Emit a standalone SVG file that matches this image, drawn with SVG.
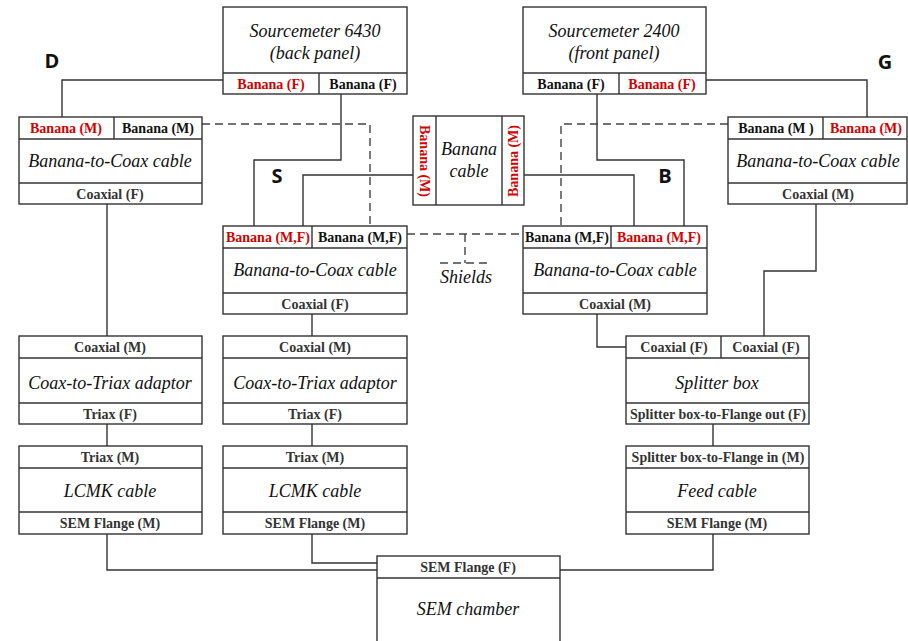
<svg xmlns="http://www.w3.org/2000/svg" width="908" height="641" viewBox="0 0 908 641">
<style>
.bx{fill:#fff;stroke:#333;stroke-width:1.4}
.dv{stroke:#333;stroke-width:1.4;fill:none}
.ln{fill:none;stroke:#333;stroke-width:1.4}
.ds{fill:none;stroke:#444;stroke-width:1.4;stroke-dasharray:8,5}
text{font-family:"Liberation Serif","Times New Roman",serif}
.pt{font-weight:bold;font-size:14px;fill:#333;text-anchor:middle}
.rd{fill:#d40000}
.bk{fill:#111}
.tt{font-style:italic;font-size:18px;fill:#111;text-anchor:middle}
text.lt{font-family:"Open Sans","DejaVu Sans",sans-serif;font-weight:bold;font-size:20px;fill:#111;text-anchor:middle}
</style>
<rect width="908" height="641" fill="#fff"/>
<g id="connectors">
<polyline class="ln" points="223,80 62,80 62,117"/>
<polyline class="ln" points="341,94 341,160 254,160 254,226"/>
<polyline class="ln" points="413,175 303,175 303,226"/>
<polyline class="ln" points="524,175 634,175 634,226"/>
<polyline class="ln" points="597,94 597,160 684,160 684,226"/>
<polyline class="ln" points="706,80 867,80 867,117"/>
<polyline class="ds" points="202,124 370,124 370,226"/>
<polyline class="ds" points="728,124 561,124 561,226"/>
<line class="ds" x1="407" y1="234" x2="523" y2="234"/>
<line class="ds" x1="465" y1="234" x2="465" y2="263"/>
<line class="ds" x1="440" y1="263" x2="491" y2="263"/>
<line class="ln" x1="107" y1="204" x2="107" y2="336"/>
<line class="ln" x1="312" y1="314" x2="312" y2="336"/>
<line class="ln" x1="107" y1="424" x2="107" y2="446"/>
<line class="ln" x1="312" y1="424" x2="312" y2="446"/>
<polyline class="ln" points="597,314 597,347 626,347"/>
<polyline class="ln" points="816,204 816,271 764,271 764,336"/>
<line class="ln" x1="713" y1="424" x2="713" y2="446"/>
<polyline class="ln" points="107,534 107,570 377,570"/>
<polyline class="ln" points="312,534 312,563 377,563"/>
<polyline class="ln" points="713,534 713,570 560,570"/>
</g>
<g id="labels">
<text class="lt" x="52" y="68">D</text>
<text class="lt" x="885" y="69">G</text>
<text class="lt" x="277" y="183">S</text>
<text class="lt" x="665" y="183">B</text>
<text class="tt" x="466" y="283">Shields</text>
</g>
<g id="sm6430">
<rect class="bx" x="223" y="7" width="184" height="87"/>
<line class="dv" x1="223" y1="73" x2="407" y2="73"/>
<line class="dv" x1="319" y1="73" x2="319" y2="94"/>
<text class="tt" x="315" y="37">Sourcemeter 6430</text>
<text class="tt" x="315" y="59">(back panel)</text>
<text class="pt rd" x="271" y="88.5">Banana (F)</text>
<text class="pt bk" x="363" y="88.5">Banana (F)</text>
</g>
<g id="sm2400">
<rect class="bx" x="523" y="7" width="183" height="87"/>
<line class="dv" x1="523" y1="73" x2="706" y2="73"/>
<line class="dv" x1="619" y1="73" x2="619" y2="94"/>
<text class="tt" x="614" y="37">Sourcemeter 2400</text>
<text class="tt" x="614" y="59">(front panel)</text>
<text class="pt bk" x="571" y="88.5">Banana (F)</text>
<text class="pt rd" x="662" y="88.5">Banana (F)</text>
</g>
<g id="b2c-d">
<rect class="bx" x="19" y="117" width="183" height="87"/>
<line class="dv" x1="19" y1="139" x2="202" y2="139"/>
<line class="dv" x1="19" y1="183" x2="202" y2="183"/>
<line class="dv" x1="114" y1="117" x2="114" y2="139"/>
<text class="pt rd" x="66" y="133">Banana (M)</text>
<text class="pt bk" x="158" y="133">Banana (M)</text>
<text class="tt" x="110" y="167">Banana-to-Coax cable</text>
<text class="pt" x="110" y="198.5">Coaxial (F)</text>
</g>
<g id="b2c-g">
<rect class="bx" x="728" y="117" width="179" height="87"/>
<line class="dv" x1="728" y1="139" x2="907" y2="139"/>
<line class="dv" x1="728" y1="183" x2="907" y2="183"/>
<line class="dv" x1="823" y1="117" x2="823" y2="139"/>
<text class="pt bk" x="776" y="133">Banana (M )</text>
<text class="pt rd" x="866" y="133">Banana (M)</text>
<text class="tt" x="818" y="167">Banana-to-Coax cable</text>
<text class="pt" x="818" y="198.5">Coaxial (M)</text>
</g>
<g id="banana-cable">
<rect class="bx" x="413" y="116" width="111" height="89"/>
<line class="dv" x1="436" y1="116" x2="436" y2="205"/>
<line class="dv" x1="502" y1="116" x2="502" y2="205"/>
<text class="pt rd" transform="translate(420,161) rotate(90)">Banana (M)</text>
<text class="pt rd" transform="translate(518,161) rotate(-90)">Banana (M)</text>
<text class="tt" x="469" y="155">Banana</text>
<text class="tt" x="469" y="177">cable</text>
</g>
<g id="b2c-s">
<rect class="bx" x="223" y="226" width="184" height="88"/>
<line class="dv" x1="223" y1="248" x2="407" y2="248"/>
<line class="dv" x1="223" y1="293" x2="407" y2="293"/>
<line class="dv" x1="312" y1="226" x2="312" y2="248"/>
<text class="pt rd" x="268" y="242">Banana (M,F)</text>
<text class="pt bk" x="360" y="242">Banana (M,F)</text>
<text class="tt" x="315" y="276">Banana-to-Coax cable</text>
<text class="pt" x="315" y="308.5">Coaxial (F)</text>
</g>
<g id="b2c-b">
<rect class="bx" x="523" y="226" width="184" height="88"/>
<line class="dv" x1="523" y1="248" x2="707" y2="248"/>
<line class="dv" x1="523" y1="293" x2="707" y2="293"/>
<line class="dv" x1="611" y1="226" x2="611" y2="248"/>
<text class="pt bk" x="567" y="242">Banana (M,F)</text>
<text class="pt rd" x="659" y="242">Banana (M,F)</text>
<text class="tt" x="615" y="276">Banana-to-Coax cable</text>
<text class="pt" x="615" y="308.5">Coaxial (M)</text>
</g>
<g id="c2t-d">
<rect class="bx" x="19" y="336" width="183" height="88"/>
<line class="dv" x1="19" y1="358" x2="202" y2="358"/>
<line class="dv" x1="19" y1="403" x2="202" y2="403"/>
<text class="pt" x="110" y="352">Coaxial (M)</text>
<text class="tt" x="110" y="389">Coax-to-Triax adaptor</text>
<text class="pt" x="110" y="418.5">Triax (F)</text>
</g>
<g id="c2t-s">
<rect class="bx" x="223" y="336" width="184" height="88"/>
<line class="dv" x1="223" y1="358" x2="407" y2="358"/>
<line class="dv" x1="223" y1="403" x2="407" y2="403"/>
<text class="pt" x="315" y="352">Coaxial (M)</text>
<text class="tt" x="315" y="389">Coax-to-Triax adaptor</text>
<text class="pt" x="315" y="418.5">Triax (F)</text>
</g>
<g id="splitter">
<rect class="bx" x="626" y="336" width="183" height="88"/>
<line class="dv" x1="626" y1="358" x2="809" y2="358"/>
<line class="dv" x1="626" y1="403" x2="809" y2="403"/>
<line class="dv" x1="721" y1="336" x2="721" y2="358"/>
<text class="pt" x="674" y="352">Coaxial (F)</text>
<text class="pt" x="766" y="352">Coaxial (F)</text>
<text class="tt" x="717" y="389">Splitter box</text>
<text class="pt" x="718" y="418.5">Splitter box-to-Flange out (F)</text>
</g>
<g id="lcmk-d">
<rect class="bx" x="19" y="446" width="183" height="88"/>
<line class="dv" x1="19" y1="468" x2="202" y2="468"/>
<line class="dv" x1="19" y1="512" x2="202" y2="512"/>
<text class="pt" x="110" y="462">Triax (M)</text>
<text class="tt" x="110" y="497">LCMK cable</text>
<text class="pt" x="110" y="528">SEM Flange (M)</text>
</g>
<g id="lcmk-s">
<rect class="bx" x="223" y="446" width="184" height="88"/>
<line class="dv" x1="223" y1="468" x2="407" y2="468"/>
<line class="dv" x1="223" y1="512" x2="407" y2="512"/>
<text class="pt" x="315" y="462">Triax (M)</text>
<text class="tt" x="315" y="497">LCMK cable</text>
<text class="pt" x="315" y="528">SEM Flange (M)</text>
</g>
<g id="feed">
<rect class="bx" x="626" y="446" width="183" height="88"/>
<line class="dv" x1="626" y1="468" x2="809" y2="468"/>
<line class="dv" x1="626" y1="512" x2="809" y2="512"/>
<text class="pt" x="718" y="462">Splitter box-to-Flange in (M)</text>
<text class="tt" x="717" y="497">Feed cable</text>
<text class="pt" x="717" y="528">SEM Flange (M)</text>
</g>
<g id="sem">
<rect class="bx" x="377" y="556" width="183" height="95"/>
<line class="dv" x1="377" y1="578" x2="560" y2="578"/>
<text class="pt" x="468" y="572">SEM Flange (F)</text>
<text class="tt" x="468" y="615">SEM chamber</text>
</g>
</svg>
